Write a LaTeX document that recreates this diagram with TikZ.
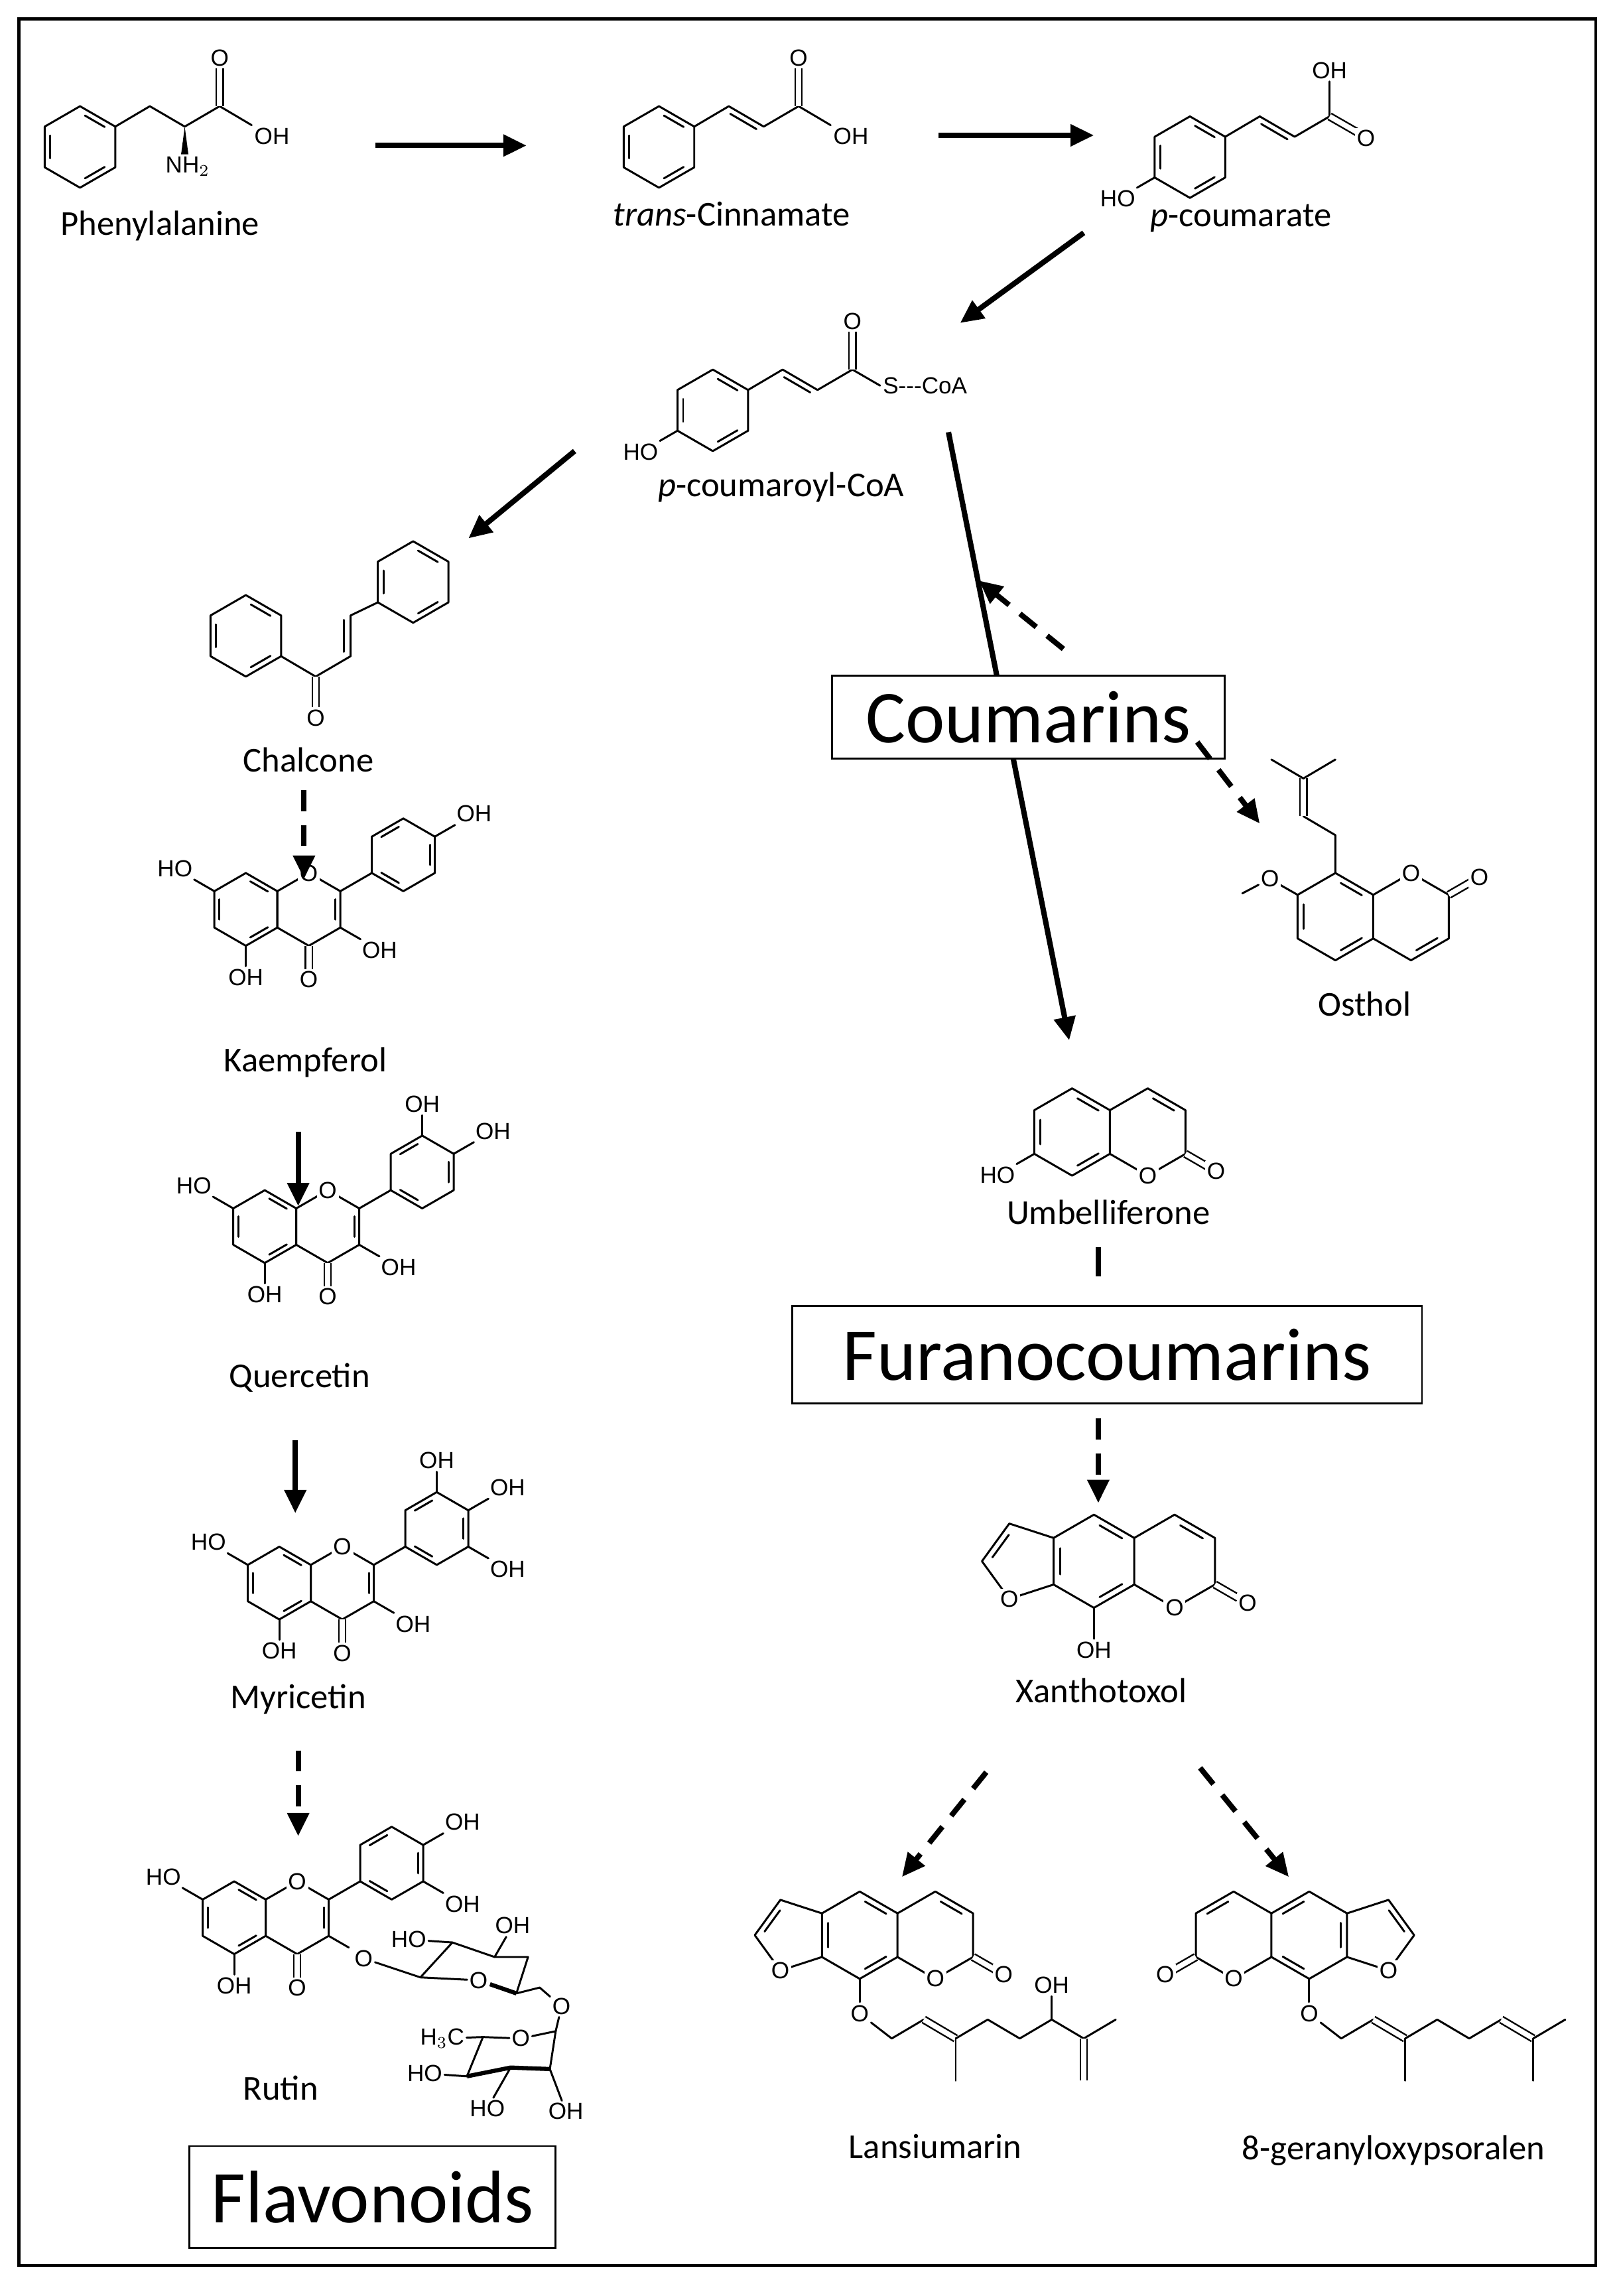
\documentclass[tikz,border=0pt]{standalone}
\usepackage{fontspec}
\usetikzlibrary{arrows.meta}
\newfontfamily\cfont{Carlito}
\newfontfamily\afont{Liberation Sans}
\newcommand\atomfont{\afont\fontsize{10}{12}\selectfont}
\newcommand\lblfont{\cfont\fontsize{15}{18}\selectfont}
\newcommand\boxfont{\cfont\fontsize{32}{38}\selectfont}
\newcommand\hexr[3]{\draw[bond] ({#1+#3*0.866},{#2-#3*0.5}) -- ({#1},{#2-#3}) -- ({#1-#3*0.866},{#2-#3*0.5}) -- ({#1-#3*0.866},{#2+#3*0.5}) -- ({#1},{#2+#3}) -- ({#1+#3*0.866},{#2+#3*0.5}) -- cycle;}
\newcommand\inn[5]{\draw[bond] ({#1+0.78*#3*cos(#4+9)},{#2-0.78*#3*sin(#4+9)}) -- ({#1+0.78*#3*cos(#5-9)},{#2-0.78*#3*sin(#5-9)});}
\newcommand\sbs[5]{\pgfmathsetmacro\sbsx{#1+#4*cos(#3)}\pgfmathsetmacro\sbsy{#2-#4*sin(#3)}\pgfmathtruncatemacro\sbsa{mod(#3+180,360)}%
 \draw[bond] ({#1},{#2}) -- (\sbsx,\sbsy) node[atom,anchor=\sbsa] {#5};}
\newcommand\coumcore{%
 \hexr{0}{0}{30}\inn{0}{0}{30}{150}{210}\inn{0}{0}{30}{30}{90}\inn{0}{0}{30}{270}{330}%
 \draw[bond] (25.98,-15) -- (51.96,-30) -- (77.94,-15) -- (77.94,15) -- (51.96,30) -- (25.98,15);%
 \inn{51.96}{0}{30}{30}{90}%
 \node[atom] at (51.96,30) {O};%
 \draw[dbl] (77.94,15) -- (93,23.7); \node[atom] at (99,27) {O};}
\newcommand\psorcore{\coumcore
 \draw[bond] (-25.98,-15) -- (-54.52,-24.27) -- (-72.15,0) -- (-54.52,24.27) -- (-25.98,15);
 \draw[bond] (-54.8,-17.05) -- (-65.4,-2.5);
 \node[atom] at (-54.52,24.27) {O};}
\newcommand\flav[3]{% A-ring centre x, y ; 3-substituent
 \hexr{#1}{#2}{25}\hexr{#1+43.3}{#2}{25}
 \inn{#1}{#2}{25}{30}{90}\inn{#1}{#2}{25}{150}{210}\inn{#1}{#2}{25}{270}{330}
 \inn{#1+43.3}{#2}{25}{330}{390}
 \node[atom] at ({#1+43.3},{#2-25}) {O};
 \draw[dbl] ({#1+43.3},{#2+25}) -- ({#1+43.3},{#2+41});
 \node[atom,anchor=north] at ({#1+43.3},{#2+41}) {O};
 \sbs{#1}{#2+25}{270}{14}{OH}
 \sbs{#1-21.65}{#2-12.5}{150}{16}{HO}
 \sbs{#1+64.95}{#2+12.5}{330}{16}{#3}
 \draw[bond] ({#1+64.95},{#2-12.5}) -- ({#1+86.6},{#2-25});
 \hexr{#1+108.25}{#2-37.5}{25}
 \inn{#1+108.25}{#2-37.5}{25}{90}{150}\inn{#1+108.25}{#2-37.5}{25}{210}{270}\inn{#1+108.25}{#2-37.5}{25}{330}{390}}
\begin{document}
\begin{tikzpicture}[x=0.02194cm,y=-0.02194cm,
 bond/.style={line width=0.85pt,line cap=round,line join=round},
 dbl/.style={double,double distance=2.2pt,line width=0.7pt},
 wide/.style={line width=1.8pt},
 atom/.style={font=\atomfont,inner sep=0.8pt,fill=white},
 lbl/.style={font=\lblfont,inner sep=1pt},
 bx/.style={draw,line width=0.8pt,fill=white,font=\boxfont},
 arr/.style={line width=2.3pt,-{Triangle[length=10pt,width=9pt]}},
 darr/.style={arr,dash pattern=on 9pt off 6pt},
 seg/.style={line width=2.3pt}]
\useasboundingbox (0,0) rectangle (1110,1578);
\draw[line width=1.3pt] (13,13) rectangle (1097,1557);

% ---- Phenylalanine
\hexr{55}{101}{28}\inn{55}{101}{28}{30}{90}\inn{55}{101}{28}{150}{210}\inn{55}{101}{28}{270}{330}
\draw[bond] (79.25,87) -- (103,73) -- (127,87) -- (151,73) -- (173,86) node[atom,anchor=north west]{OH};
\draw[dbl] (151,73) -- (151,47); \node[atom,anchor=south] at (151,47) {O};
\fill (127,87) -- (124.5,106) -- (129.5,106) -- cycle;
\node[atom,anchor=north] at (129,106) {NH$_2$};
\node[lbl] (phe) at (110,155) {Phenylalanine};

% ---- trans-Cinnamate
\hexr{453}{101}{28}\inn{453}{101}{28}{30}{90}\inn{453}{101}{28}{150}{210}\inn{453}{101}{28}{270}{330}
\draw[bond] (477.25,87) -- (501,73) -- (525,87) -- (549,73) -- (571,86) node[atom,anchor=north west]{OH};
\draw[bond] (502,78.2) -- (520,88.7);
\draw[dbl] (549,73) -- (549,47); \node[atom,anchor=south] at (549,47) {O};
\node[lbl] (cin) at (503,147) {\itshape trans\upshape-Cinnamate};

% ---- p-coumarate
\hexr{818}{108}{28}\inn{818}{108}{28}{30}{90}\inn{818}{108}{28}{150}{210}\inn{818}{108}{28}{270}{330}
\draw[bond] (842.25,94) -- (866,80) -- (890,94) -- (914,80);
\draw[bond] (867,85.2) -- (885,95.7);
\draw[bond] (914,80) -- (914,56) node[atom,anchor=south]{OH};
\draw[dbl] (914,80) -- (934,91.5); \node[atom] at (939,95) {O};
\sbs{793.75}{122}{210}{14}{HO}
\node[lbl] (pcm) at (853,150) {\itshape p\upshape-coumarate};

% ---- p-coumaroyl-CoA
\hexr{490}{282}{28}\inn{490}{282}{28}{30}{90}\inn{490}{282}{28}{150}{210}\inn{490}{282}{28}{270}{330}
\draw[bond] (514.25,268) -- (538,254) -- (562,268) -- (586,254) -- (605,265) node[atom,anchor=west]{S---CoA};
\draw[bond] (539,259.2) -- (557,269.7);
\draw[dbl] (586,254) -- (586,228); \node[atom,anchor=south] at (586,228) {O};
\sbs{465.75}{296}{210}{14}{HO}
\node[lbl] (pcoa) at (537,335) {\itshape p\upshape-coumaroyl-CoA};

% ---- Chalcone
\hexr{169}{437}{28}\inn{169}{437}{28}{30}{90}\inn{169}{437}{28}{150}{210}\inn{169}{437}{28}{270}{330}
\hexr{284}{400}{28}\inn{284}{400}{28}{30}{90}\inn{284}{400}{28}{150}{210}\inn{284}{400}{28}{270}{330}
\draw[bond] (193.25,451) -- (217,465) -- (241,451) -- (241,423) -- (259.75,414);
\draw[bond] (236.5,448) -- (236.5,426);
\draw[dbl] (217,465) -- (217,486); \node[atom,anchor=north] at (217,486) {O};
\node[lbl] (chal) at (212,522) {Chalcone};

% ---- Kaempferol
\flav{169}{625}{OH}
\sbs{169+108.25+21.65}{625-37.5-12.5}{30}{16}{OH}
\node[lbl] (kae) at (210,730) {Kaempferol};

% ---- Quercetin
\flav{182}{843}{OH}
\sbs{182+108.25}{843-37.5-25}{90}{14}{OH}
\sbs{182+108.25+21.65}{843-37.5-12.5}{30}{16}{OH}
\node[lbl] (que) at (206,947) {Quercetin};

% ---- Myricetin
\flav{192}{1088}{OH}
\sbs{192+108.25}{1088-37.5-25}{90}{14}{OH}
\sbs{192+108.25+21.65}{1088-37.5-12.5}{30}{16}{OH}
\sbs{192+108.25+21.65}{1088-37.5+12.5}{330}{16}{OH}
\node[lbl] (myr) at (205,1168) {Myricetin};

% ---- Rutin
\flav{161}{1318}{}
\sbs{161+108.25+21.65}{1318-37.5-12.5}{30}{16}{OH}
\sbs{161+108.25+21.65}{1318-37.5+12.5}{330}{16}{OH}
\node[atom] (ro) at (250,1346) {O};
\draw[bond] (ro) -- (289,1359) -- (311,1335) -- (340,1345) -- (363,1345) -- (355,1370);
\node[atom] (gro) at (329,1361) {O};
\draw[bond] (289,1359) -- (gro);
\draw[wide] (gro) -- (355,1370);
\node[atom] (gho) at (281,1333) {HO};
\draw[bond] (gho) -- (311,1335);
\sbs{340}{1345}{60}{16}{OH}
\node[atom] (go) at (386,1379) {O};
\draw[bond] (355,1370) -- (371,1366) -- (go) -- (382,1396);
\node[atom] (rro) at (358,1401) {O};
\node[atom] (h3c) at (304,1401) {H$_3$C};
\draw[bond] (382,1396) -- (rro) -- (332,1400) -- (h3c);
\draw[bond] (332,1400) -- (321,1427);
\draw[wide] (321,1427) -- (351,1421) -- (378,1422);
\draw[bond] (378,1422) -- (382,1396);
\node[atom] (rho1) at (292,1425) {HO};
\draw[bond] (rho1) -- (321,1427);
\node[atom] (rho2) at (335,1449) {HO};
\draw[bond] (351,1421) -- (rho2);
\node[atom] (roh) at (389,1451) {OH};
\draw[bond] (378,1422) -- (roh);
\node[lbl] (rut) at (193,1435) {Rutin};

% ---- main coumarin line (behind box)
\coordinate (m1) at (652,297); \coordinate (m2) at (735,715);
\draw[arr] (m1) -- (m2);

% ---- boxes
\node[bx,minimum width=5.92cm,minimum height=1.25cm] (cbox) at (707,493) {Coumarins};
\node[bx,minimum width=9.5cm,minimum height=1.47cm] (fbox) at (761,931) {Furanocoumarins};
\node[bx,minimum width=5.53cm,minimum height=1.54cm] (flbox) at (256,1510) {Flavonoids};

% ---- Osthol
\begin{scope}[shift={(918,630)},yscale=-1]
\coumcore
\draw[bond] (-25.98,15) -- (-40,23);
\node[atom] (om) at (-45,26) {O};
\draw[bond] (om) -- (-64,16);
\draw[bond] (0,30) -- (0,56) -- (-22,69);
\draw[dbl] (-22,69) -- (-22,95);
\draw[bond] (-22,95) -- (-44,108);
\draw[bond] (-22,95) -- (0,108);
\end{scope}
\node[lbl] (ost) at (938,690) {Osthol};

% ---- Umbelliferone
\begin{scope}[shift={(737,778)}]
\coumcore
\end{scope}
\sbs{737-25.98}{778+15}{210}{14}{HO}
\node[lbl] (umb) at (762,833) {Umbelliferone};

% ---- Xanthotoxol
\begin{scope}[shift={(752,1073)},scale=1.067]
\psorcore
\draw[bond] (0,30) -- (0,50);
\end{scope}
\node[atom,anchor=north] at (752,1127) {OH};
\node[lbl] (xan) at (757,1162) {Xanthotoxol};

% ---- Lansiumarin
\begin{scope}[shift={(591,1330)}]
\psorcore
\draw[bond] (0,30) -- (0,46);
\end{scope}
\node[atom] (lo) at (591,1384) {O};
\draw[bond] (lo) -- (613,1401) -- (635,1388);
\draw[dbl] (635,1388) -- (657,1401);
\draw[bond] (657,1401) -- (679,1388) -- (701,1401) -- (723,1388) -- (745,1401) -- (767,1388);
\draw[bond] (657,1401) -- (657,1430);
\draw[dbl] (745,1401) -- (745,1430);
\draw[bond] (723,1388) -- (723,1372) node[atom,anchor=south] {OH};
\node[lbl] (lan) at (643,1475) {Lansiumarin};

% ---- 8-geranyloxypsoralen
\begin{scope}[shift={(900,1330)},xscale=-1]
\psorcore
\draw[bond] (0,30) -- (0,46);
\end{scope}
\node[atom] (gxo) at (900,1384) {O};
\draw[bond] (gxo) -- (922,1401) -- (944,1388);
\draw[dbl] (944,1388) -- (966,1401);
\draw[bond] (966,1401) -- (988,1388) -- (1010,1401) -- (1032,1388);
\draw[dbl] (1032,1388) -- (1054,1401);
\draw[bond] (1054,1401) -- (1076,1388);
\draw[bond] (966,1401) -- (966,1430);
\draw[bond] (1054,1401) -- (1054,1430);
\node[lbl] (ger) at (958,1478) {8-geranyloxypsoralen};

% ---- arrows
\coordinate (a1s) at (258,100); \coordinate (a1e) at (362,100);
\coordinate (a2s) at (645,93);  \coordinate (a2e) at (752,93);
\coordinate (a3s) at (745,160); \coordinate (a3e) at (660,222);
\coordinate (a4s) at (395,310); \coordinate (a4e) at (322,370);
\coordinate (c1s) at (731,446); \coordinate (c1e) at (673,399);
\coordinate (c2s) at (823,510); \coordinate (c2e) at (866,566);
\coordinate (f1s) at (209,543); \coordinate (f1e) at (209,604);
\coordinate (f2s) at (205,778); \coordinate (f2e) at (205,829);
\coordinate (f3s) at (203,990); \coordinate (f3e) at (203,1040);
\coordinate (f4s) at (205,1203); \coordinate (f4e) at (205,1262);
\coordinate (u1s) at (755,857); \coordinate (u1e) at (755,877);
\coordinate (u2s) at (755,975); \coordinate (u2e) at (755,1033);
\coordinate (x1s) at (678,1218); \coordinate (x1e) at (620,1290);
\coordinate (x2s) at (825,1215); \coordinate (x2e) at (886,1290);
\draw[arr] (a1s) -- (a1e);
\draw[arr] (a2s) -- (a2e);
\draw[arr] (a3s) -- (a3e);
\draw[arr] (a4s) -- (a4e);
\draw[darr] (c1s) -- (c1e);
\draw[darr] (c2s) -- (c2e);
\draw[darr] (f1s) -- (f1e);
\draw[arr] (f2s) -- (f2e);
\draw[arr] (f3s) -- (f3e);
\draw[darr] (f4s) -- (f4e);
\draw[seg] (u1s) -- (u1e);
\draw[darr] (u2s) -- (u2e);
\draw[darr] (x1s) -- (x1e);
\draw[darr] (x2s) -- (x2e);
\end{tikzpicture}
\end{document}
